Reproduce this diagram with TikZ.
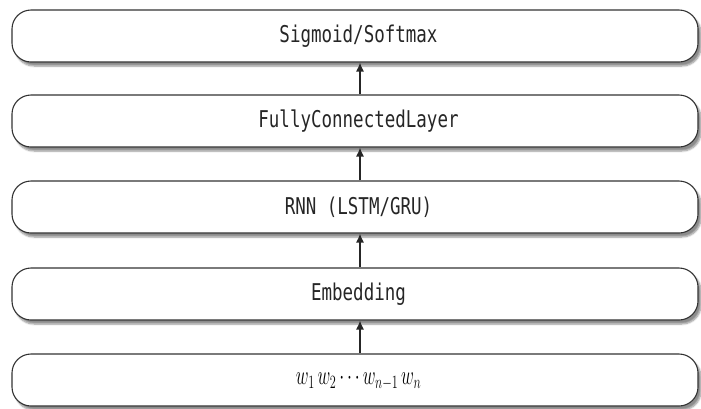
\documentclass[tikz,border=0pt]{standalone}
\usepackage{graphicx}
\usepackage{fontspec}
\newfontfamily\monofont{DejaVu Sans Mono}
\usetikzlibrary{shadows.blur,arrows.meta}
\tikzset{
  layerbox/.style={draw=black!80, line width=1.1pt, fill=white, rounded corners=19pt,
    minimum width=686pt, minimum height=52pt, inner sep=0pt,
    blur shadow={shadow xshift=3pt, shadow yshift=-4pt, shadow blur steps=6, shadow opacity=45}},
  lbl/.style={font=\monofont\fontsize{17.5}{20}\selectfont, text=black!85},
  arr/.style={-{Latex[length=9pt,width=8pt]}, line width=1.3pt, draw=black!85}
}
\newcommand{\tallt}[1]{\scalebox{1}[1.32]{#1}}
\begin{document}
\begin{tikzpicture}[x=1pt,y=-1pt]
\useasboundingbox (0,0) rectangle (701,408);
\node[layerbox] (b5) at (355,380) {};
\node[layerbox] (b4) at (355,294) {};
\node[layerbox] (b3) at (355,207) {};
\node[layerbox] (b2) at (355,121) {};
\node[layerbox] (b1) at (355,36) {};
\node[lbl] (t1) at (358.5,36) {\tallt{Sigmoid/Softmax}};
\node[lbl] (t2) at (358.5,121) {\tallt{FullyConnectedLayer}};
\node[lbl] (t3) at (358.5,207) {\tallt{RNN (LSTM/GRU)}};
\node[lbl] (t4) at (358.5,294) {\tallt{Embedding}};
\node[font=\fontsize{21}{24}\selectfont] (t5) at (358.5,381) {\scalebox{0.85}[1.3]{$w_1\,w_2\,{\cdots}\,w_{n-1}\,w_n$}};
\draw[arr] ([xshift=5pt]b5.north) -- ([xshift=5pt]b4.south);
\draw[arr] ([xshift=5pt]b4.north) -- ([xshift=5pt]b3.south);
\draw[arr] ([xshift=5pt]b3.north) -- ([xshift=5pt]b2.south);
\draw[arr] ([xshift=5pt]b2.north) -- ([xshift=5pt]b1.south);
\end{tikzpicture}
\end{document}
